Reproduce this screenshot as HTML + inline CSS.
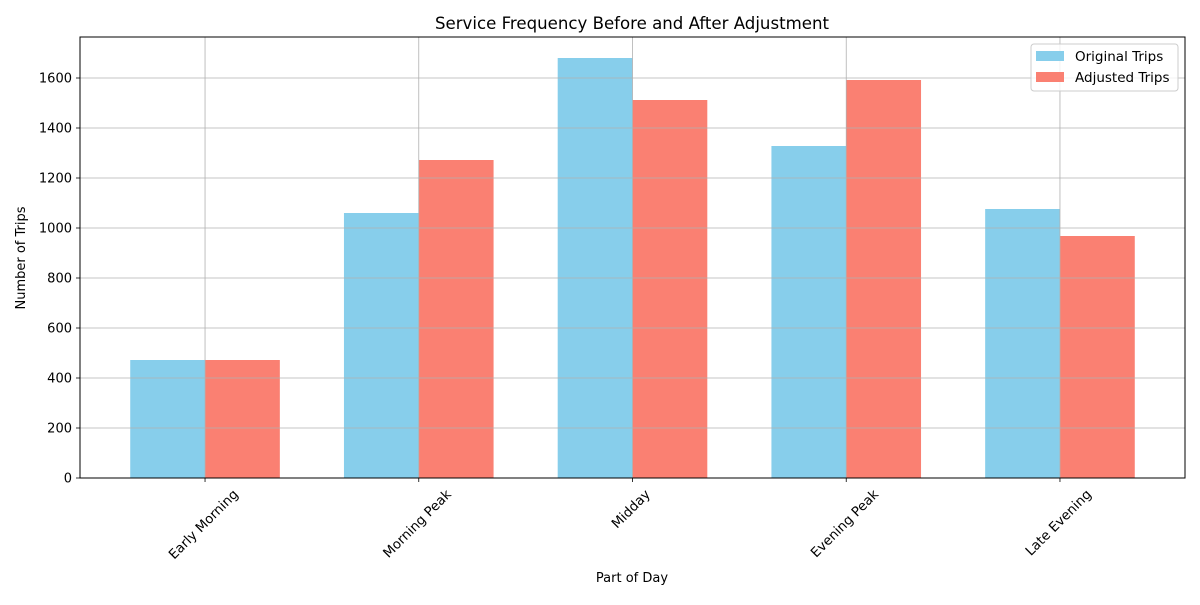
<!DOCTYPE html>
<html><head><meta charset="utf-8"><style>body{margin:0;background:#fff}svg{font-family:"DejaVu Sans","Liberation Sans",sans-serif}</style></head>
<body>
<svg id="chart" width="1200" height="600" xmlns="http://www.w3.org/2000/svg">
<rect width="1200" height="600" fill="#fff"/>
<text x="632" y="29" font-size="16.6" text-anchor="middle">Service Frequency Before and After Adjustment</text>
<g id="bars"></g><g id="grid"></g><g id="axes"></g>
<text x="632" y="582" font-size="13" text-anchor="middle">Part of Day</text>
<text transform="translate(25,258) rotate(-90)" font-size="13" text-anchor="middle">Number of Trips</text>
<g>
<rect x="1031" y="44" width="147" height="47" fill="#fff" fill-opacity="0.8" stroke="#ccc" rx="3"/>
<rect x="1036" y="51" width="28" height="10" fill="#87CEEB"/>
<text x="1075" y="61" font-size="13.5">Original Trips</text>
<rect x="1036" y="72" width="28" height="10" fill="#FA8072"/>
<text x="1075" y="82" font-size="13.5">Adjusted Trips</text>
</g>
</svg>
<script>
const categories=["Early Morning","Morning Peak","Midday","Evening Peak","Late Evening"];
const originalTrips=[472,1060,1680,1328,1076];
const adjustedTrips=[472,1272,1512,1592,968];
const yTicks=[0,200,400,600,800,1000,1200,1400,1600];
const NS="http://www.w3.org/2000/svg";
const L=80,R=1185,T=37,B=478,yMax=1764,xMin=-0.585,xMax=4.585,bw=0.35;
const X=v=>L+(v-xMin)/(xMax-xMin)*(R-L);
const Y=v=>B-v/yMax*(B-T);
function mk(tag,attrs,parent){const e=document.createElementNS(NS,tag);for(const k in attrs)e.setAttribute(k,attrs[k]);document.getElementById(parent).appendChild(e);return e;}
categories.forEach((c,i)=>{
 let e=mk('rect',{x:X(i-bw),y:Y(originalTrips[i]),width:X(i)-X(i-bw),height:B-Y(originalTrips[i]),fill:'#87CEEB'},'bars');
 
 
 e=mk('rect',{x:X(i),y:Y(adjustedTrips[i]),width:X(i+bw)-X(i),height:B-Y(adjustedTrips[i]),fill:'#FA8072'},'bars');
 
 
 mk('line',{x1:X(i),x2:X(i),y1:T,y2:B,stroke:'#b0b0b0','stroke-width':0.8},'grid');
 mk('line',{x1:X(i),x2:X(i),y1:B,y2:B+4,stroke:'#000','stroke-width':0.8},'axes');
 const t=mk('text',{'font-size':13.3,'text-anchor':'middle','dominant-baseline':'central'},'axes');
 t.textContent=c;
 
 
 const len=t.getComputedTextLength();const h=(len+13)*Math.SQRT1_2/2;
 t.setAttribute('transform',`translate(${X(i)-1},${B+10+h}) rotate(-45)`);
});
yTicks.forEach(v=>{
 mk('line',{x1:L,x2:R,y1:Y(v),y2:Y(v),stroke:'#b0b0b0','stroke-width':0.8},'grid');
 mk('line',{x1:L-4,x2:L,y1:Y(v),y2:Y(v),stroke:'#000','stroke-width':0.8},'axes');
 const t=mk('text',{x:L-8,y:Y(v)+4.5,'font-size':13,'text-anchor':'end'},'axes');
 t.textContent=v;
 
 
});
const f=mk('rect',{x:L,y:T,width:R-L,height:B-T,fill:'none',stroke:'#000','stroke-width':1},'axes');


</script>
</body></html>
